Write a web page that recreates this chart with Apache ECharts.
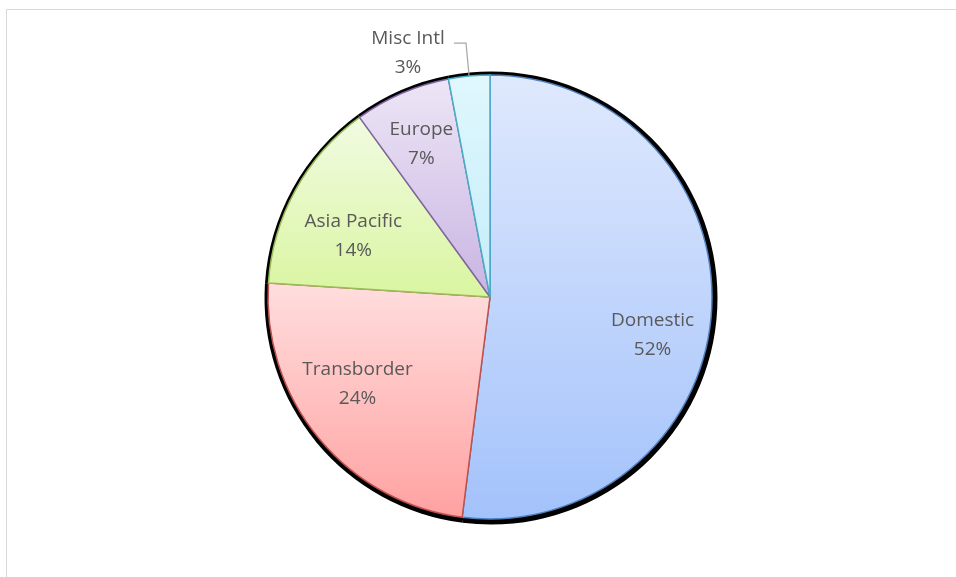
<!DOCTYPE html>
<html>
<head>
<meta charset="utf-8">
<script src="https://cdn.jsdelivr.net/npm/echarts@6/dist/echarts.min.js"></script>
<style>
  html, body { margin: 0; padding: 0; background: #ffffff; }
  #chart { width: 956px; height: 577px; }
</style>
</head>
<body>
<div id="chart"></div>
<script>
// Share of traffic by region (percent), clockwise from 12 o'clock
const regions = ['Domestic', 'Transborder', 'Asia Pacific', 'Europe', 'Misc Intl'];
const shares = [52, 24, 14, 7, 3];

// Fill gradients (top → bottom) and outline colours per slice
const topColors = ['#dfe9fd', '#ffdede', '#f1fbe2', '#ede6f6', '#e0f7fd'];
const bottomColors = ['#a3c2fb', '#ffa1a1', '#d9f5a0', '#c9b4e2', '#c4edfa'];
const edgeColors = ['#4f81bd', '#c0504d', '#9bbb59', '#8064a2', '#4bacc6'];

// small best-fit nudges for the inside labels [dx, dy]
const labelNudge = [[0, 28], [-7, -17], [6, 18], [-4, -3], [0, 0]];

const CENTER = ['490', '297'];
const R = 222;

const chart = echarts.init(document.getElementById('chart'), null, { renderer: 'canvas' });

const labelFont = {
  fontFamily: '"Open Sans", Lato, sans-serif',
  fontSize: 19,
  color: '#595959',
  lineHeight: 29
};

const lastIdx = regions.length - 1;

const sliceData = regions.map((name, i) => {
  const d = {
    name,
    value: shares[i],
    itemStyle: {
      color: {
        type: 'linear', x: 0, y: 0, x2: 0, y2: 1,
        colorStops: [
          { offset: 0, color: topColors[i] },
          { offset: 1, color: bottomColors[i] }
        ]
      },
      borderColor: edgeColors[i],
      borderWidth: 1.5
    }
  };
  if (i === lastIdx) {
    d.label = {
      show: true,
      position: 'outside',
      formatter: p => '{t|' + p.name + '}\n{t|' + p.value + '%}',
      distanceToLabelLine: 4,
      padding: [20, 0, 0, 0],
      rich: { t: Object.assign({ width: 84, align: 'center' }, labelFont) }
    };
    d.labelLine = {
      show: true,
      length: 33,
      length2: 12,
      lineStyle: { color: '#a6a6a6', width: 1.2 }
    };
  }
  return d;
});

const option = {
  animation: false,
  backgroundColor: '#ffffff',
  graphic: [{
    type: 'rect',
    shape: { x: 6.5, y: 9.5, width: 960, height: 580 },
    style: { fill: 'none', stroke: '#d9d9d9', lineWidth: 1 },
    silent: true,
    z: 0
  }],
  series: [
    // dark rim drawn just outside the pie
    {
      type: 'pie',
      silent: true,
      center: ['491', '298'],
      radius: [0, R + 4.5],
      startAngle: 90,
      clockwise: true,
      label: { show: false },
      labelLine: { show: false },
      itemStyle: { color: '#000000', borderWidth: 0 },
      data: shares.map((v, i) => ({ name: regions[i], value: v })),
      z: 1
    },
    // the pie itself, with the small slice labelled outside
    {
      type: 'pie',
      center: CENTER,
      radius: [0, R],
      startAngle: 90,
      clockwise: true,
      avoidLabelOverlap: false,
      label: { show: false },
      labelLine: { show: false },
      data: sliceData,
      z: 2
    },
    // label carrier: transparent, wider ring so inside labels sit at ~0.72 R
    {
      type: 'pie',
      silent: true,
      center: CENTER,
      radius: [0, R * 1.44],
      startAngle: 90,
      clockwise: true,
      itemStyle: { color: 'rgba(0,0,0,0)', borderWidth: 0 },
      label: Object.assign({
        show: true,
        position: 'inside',
        formatter: p => p.name + '\n' + p.value + '%'
      }, labelFont),
      labelLine: { show: false },
      labelLayout: p => ({ dx: labelNudge[p.dataIndex][0], dy: labelNudge[p.dataIndex][1] }),
      data: shares.map((v, i) => ({
        name: regions[i],
        value: v,
        label: i === lastIdx ? { show: false } : undefined
      })),
      z: 3
    }
  ]
};

chart.setOption(option);
</script>
</body>
</html>
